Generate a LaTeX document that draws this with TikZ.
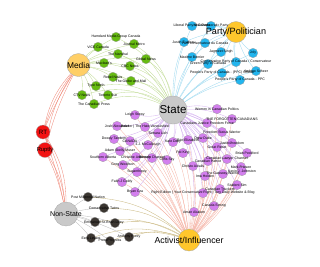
\documentclass[tikz,border=0pt]{standalone}
\usepackage{fontspec}
\setmainfont{Liberation Sans}
\usetikzlibrary{backgrounds}
\definecolor{cgreen}{HTML}{66BB11}
\definecolor{cblue}{HTML}{22B5EE}
\definecolor{cpurple}{HTML}{D37FEE}
\definecolor{cdark}{HTML}{3B3631}
\definecolor{cred}{HTML}{F21212}
\definecolor{cgold}{HTML}{FFC72C}
\definecolor{cmedia}{HTML}{FFCF66}
\definecolor{cgray}{HTML}{C9C9C9}
\definecolor{egreen}{HTML}{C2DC98}
\definecolor{eblue}{HTML}{9ED9EF}
\definecolor{epurple}{HTML}{D5B2F0}
\definecolor{esalmon}{HTML}{F5B5A8}
\definecolor{ekhaki}{HTML}{C9B77F}
\definecolor{ered}{HTML}{EF8676}
\definecolor{egray}{HTML}{BBBBBB}
\begin{document}
\begin{tikzpicture}[x=1pt,y=-1pt,
  hub/.style={circle,draw=black!35,line width=0.3pt,inner sep=0pt},
  leaf/.style={circle,draw=black!40,line width=0.25pt,inner sep=0pt,minimum size=9.5pt},
  gnode/.style={leaf,fill=cgreen},
  bnode/.style={leaf,fill=cblue},
  pnode/.style={leaf,fill=cpurple},
  knode/.style={leaf,fill=cdark},
  lab/.style={font=\fontsize{3.5}{4}\selectfont,inner sep=0pt},
  hublab/.style={font=\fontsize{#1}{#1}\selectfont,inner sep=0pt},
  edge/.style={line width=0.33pt,draw=#1}]
\useasboundingbox (0,0) rectangle (320,266);
% hubs
\node[hub,fill=cmedia,minimum size=23pt] (Media) at (78.5,65) {};
\node[hub,fill=cgold,minimum size=21pt] (Party) at (236,32) {};
\node[hub,fill=cgray,minimum size=28pt] (State) at (173,110) {};
\node[hub,fill=cgray,minimum size=24pt] (NonState) at (66,214) {};
\node[hub,fill=cgold,minimum size=22pt] (Activist) at (189,240) {};
\node[hub,fill=cred,minimum size=14pt] (RT) at (43,132) {};
\node[hub,fill=cred,minimum size=15pt] (Ruptly) at (45,150) {};
% green
\foreach \n/\x/\y in {g1/116/37,g2/98/47,g3/134/44,g4/118/54,g5/146/59,g6/104/63,g7/130/66,g8/113/77,g9/131/81,g10/96/86,g11/82/95,g12/108/95,g13/94/104}
  \node[gnode] (\n) at (\x,\y) {};
% blue
\foreach \n/\x/\y in {b1/192/26,b2/211/26,b3/184/42,b4/205/43,b5/221/52,b6/253/53,b7/192/57,b8/208/64,b9/236/62,b10/256/71,b11/222/73,b12/240/80}
  \node[bnode] (\n) at (\x,\y) {};
% purple
\foreach \n/\x/\y in {p1/135/115,p2/117/126,p3/145/127,p4/158/133,p5/114/139,p6/130/141,p7/148/145,p8/120/151,p9/103/157,p10/136/157,p11/152/158,p12/123/165,p13/137/172,p14/122/182,p15/135/192,p16/217/109,p17/232/119,p18/207/123,p20/173/142,p21/188/140,p22/203/138,p23/222/132,p24/232/143,p25/217/147,p26/247/153,p27/183/153,p28/227/159,p29/208/161,p30/193/166,p31/241/167,p32/167/160,p33/205/176,p34/223/174,p35/242/171,p36/237/185,p37/220/189,p38/203/193,p39/214/206,p40/194/212}
  \node[pnode] (\n) at (\x,\y) {};
% dark
\foreach \n/\x/\y in {k1/88/197,k2/104/208,k3/95/222,k4/115/223,k5/129/237,k6/91/238,k7/110/241}
  \node[knode] (\n) at (\x,\y) {};
% edges
\begin{pgfonlayer}{background}
\foreach \n in {g1,g2,g3,g4,g5,g6,g7,g8,g9,g10,g11,g12,g13}{
  \draw[edge=egreen] (Media) to[bend left=8] (\n);
  \draw[edge=egreen] (State) to[bend right=22] (\n);}
\foreach \n in {b1,b2,b3,b4,b5,b6,b7,b8,b9,b10,b11,b12}{
  \draw[edge=eblue] (Party) to[bend right=10] (\n);
  \draw[edge=eblue] (State) to[bend left=10] (\n);}
\foreach \n in {p1,p2,p3,p4,p5,p6,p7,p8,p9,p10,p11,p12,p13,p14,p15,p16,p17,p18,p20,p21,p22,p23,p24,p25,p26,p27,p28,p29,p30,p31,p32,p33,p34,p35,p36,p37,p38,p39,p40}{
  \draw[edge=epurple] (State) to[bend left=12] (\n);
  \draw[edge=esalmon] (Activist) to[bend right=10] (\n);}
\foreach \n in {k1,k2,k3,k4,k5,k6,k7}{
  \draw[edge=egray] (NonState) to[bend left=5] (\n);
  \draw[edge=ekhaki] (\n) to[bend left=18] (Activist);}
\foreach \b in {4,9,14}{
  \draw[edge=ered] (Media) to[bend right=\b] (RT);}
\foreach \b in {4,10,16}{
  \draw[edge=ered] (RT) to[bend left=\b] (NonState);}
\foreach \b in {6,12}{
  \draw[edge=ered] (Media) to[bend right=\b] (Ruptly);
  \draw[edge=ered] (Ruptly) to[bend left=\b] (NonState);}
\end{pgfonlayer}
% leaf labels
\foreach \n/\t in {g1/{Hamdard Media Group Canada},g2/{VICE Canada},g3/{Journal Metro},g4/{The Narwhal},g5/{Global News},g6/{Maclean's},g7/{CBC News},g8/{Rebel News},g9/{The Globe and Mail},g10/{Tyee North},g11/{CTV News},g12/{Toronto Sun},g13/{The Canadian Press},
  b1/{Liberal Party of Canada},b2/{New Democratic Party},b3/{Justin Trudeau},b4/{Parti conservateur du Canada},b5/{Jagmeet Singh},b6/{Joly},b7/{Maxime Bernier},b8/{Green Party of Canada},b9/{Conservative Party of Canada / Conservateur},b10/{Andrew Scheer},b11/{People's Party of Canada - (PPC) Official},b12/{People's Party of Canada - PPC},
  p1/{Leigh Stewy},p2/{Josh Alexander},p3/{Bauder | The Hate Vanquished},p4/{Tamara Lich},p5/{Dowdy Tandem},p6/{CANADA},p7/{J.J. McCullough},p8/{Adam Skelly Muser},p9/{Southern Alberta},p10/{Christine Anderson},p11/{Beverly Channel},p12/{Greg Woolfson},p13/{Suganthiney},p14/{Faith J Goldy},p15/{Bryan Gra},p16/{Women in Canadian Politics},p17/{THE FORGOTTEN CANADIANS},p18/{Canadians Justice Freedom Force},p20/{Kate Daily},p21/{Erin Elizabeth},p22/{Drew Dube},p23/{Freedom Status Warrior},p24/{Justin4freedom},p25/{Great Reset},p26/{Brian Peckford},p27/{Pat King},p28/{Canadian Lawyer Channel},p29/{Canadian Patriot},p30/{Christo Aivalis},p31/{Mark Friesen},p32/{Chris Sky},p33/{Ima Holden},p34/{The Gateway Warrior},p35/{Kevin J. Johnston},p36/{Student Sim},p37/{Canadian Truckers},p38/{Right Edition | Your Conservative Right | Tory Daily Website \& Blog},p39/{Canada Strong},p40/{Aman Akaken},
  k1/{Post Millennial Nation},k2/{Conservative Twins},k3/{Emmanuel St.},k4/{Brian Lilley},k5/{Anthony Furey},k6/{Ezra Levant},k7/{PressProgress}}
  \node[lab] (\n-t) at (\n) {\t};
% hub labels
\node[hublab=8.4] (Media-t) at (Media) {Media};
\node[hublab=9.1] (Party-t) at (Party) {Party/Politician};
\node[hublab=11.5] (State-t) at (State) {State};
\node[hublab=7] (NonState-t) at (NonState) {Non-State};
\node[hublab=8.8] (Activist-t) at (Activist) {Activist/Influencer};
\node[hublab=6.2] (RT-t) at (RT) {RT};
\node[hublab=5.8] (Ruptly-t) at (Ruptly) {Ruptly};
\end{tikzpicture}
\end{document}
